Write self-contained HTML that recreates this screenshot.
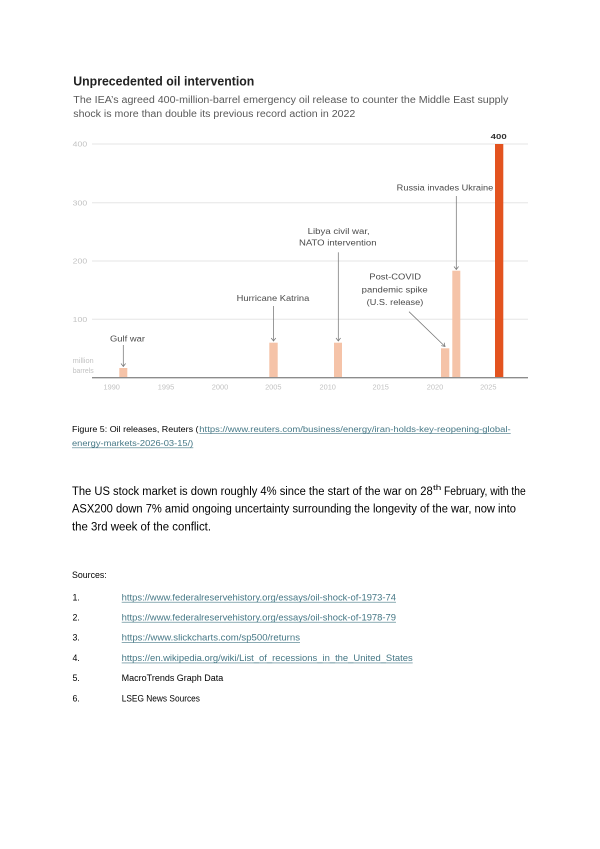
<!DOCTYPE html>
<html>
<head>
<meta charset="utf-8">
<style>
  html,body{margin:0;padding:0;background:#fff;}
  svg{display:block;}
  .ann{font-family:"Liberation Sans",sans-serif;font-size:8.6px;fill:#4a4a4a;}
  .ax{font-family:"Liberation Sans",sans-serif;font-size:7.4px;fill:#c2c2c2;}
  .doc{font-family:"Liberation Sans",sans-serif;fill:#000;}
  .lnk{fill:#467886;}
</style>
</head>
<body>
<svg width="600" height="849" viewBox="0 0 600 849" xmlns="http://www.w3.org/2000/svg">
  <rect width="600" height="849" fill="#fff"/>

  <!-- Title & subtitle -->
  <text x="73.3" y="85.7" font-family="Liberation Sans, sans-serif" font-weight="bold" font-size="12.5" fill="#222" textLength="181" lengthAdjust="spacingAndGlyphs">Unprecedented oil intervention</text>
  <text x="73.3" y="103" font-family="Liberation Sans, sans-serif" font-size="10" fill="#595959" textLength="435" lengthAdjust="spacingAndGlyphs">The IEA’s agreed 400-million-barrel emergency oil release to counter the Middle East supply</text>
  <text x="73.3" y="117" font-family="Liberation Sans, sans-serif" font-size="10" fill="#595959" textLength="282" lengthAdjust="spacingAndGlyphs">shock is more than double its previous record action in 2022</text>

  <!-- Gridlines -->
  <g stroke="#e6e6e6" stroke-width="1">
    <line x1="92" y1="144" x2="528" y2="144"/>
    <line x1="92" y1="202.7" x2="528" y2="202.7"/>
    <line x1="92" y1="261" x2="528" y2="261"/>
    <line x1="92" y1="319.3" x2="528" y2="319.3"/>
  </g>

  <!-- Y axis labels -->
  <text class="ax" x="72.7" y="146.7" textLength="14.5" lengthAdjust="spacingAndGlyphs">400</text>
  <text class="ax" x="72.7" y="205.4" textLength="14.5" lengthAdjust="spacingAndGlyphs">300</text>
  <text class="ax" x="72.7" y="263.7" textLength="14.5" lengthAdjust="spacingAndGlyphs">200</text>
  <text class="ax" x="72.7" y="322" textLength="14.5" lengthAdjust="spacingAndGlyphs">100</text>
  <text class="ax" x="72.7" y="362.8" font-size="6" textLength="21" lengthAdjust="spacingAndGlyphs">million</text>
  <text class="ax" x="72.7" y="372.8" font-size="6" textLength="21" lengthAdjust="spacingAndGlyphs">barrels</text>

  <!-- Bars -->
  <g fill="#f5c3a8">
    <rect x="119.3" y="368" width="8" height="9.7"/>
    <rect x="269.3" y="342.7" width="8.4" height="35"/>
    <rect x="334" y="342.7" width="8" height="35"/>
    <rect x="441" y="348.3" width="8.3" height="29.4"/>
    <rect x="452.3" y="270.7" width="8" height="107"/>
  </g>
  <rect x="495" y="144" width="8.3" height="233.7" fill="#e3531f"/>
  <text x="498.7" y="139" text-anchor="middle" font-family="Liberation Sans, sans-serif" font-weight="bold" font-size="7.6" fill="#333" textLength="16" lengthAdjust="spacingAndGlyphs">400</text>

  <!-- Baseline -->
  <line x1="92" y1="377.7" x2="528" y2="377.7" stroke="#8c8c8c" stroke-width="1.3"/>

  <!-- X axis labels -->
  <g class="ax" text-anchor="middle">
    <text x="111.7" y="389.5">1990</text>
    <text x="166" y="389.5">1995</text>
    <text x="220" y="389.5">2000</text>
    <text x="273.3" y="389.5">2005</text>
    <text x="327.7" y="389.5">2010</text>
    <text x="380.7" y="389.5">2015</text>
    <text x="435" y="389.5">2020</text>
    <text x="488.3" y="389.5">2025</text>
  </g>

  <!-- Annotations -->
  <text class="ann" x="110" y="341.5" textLength="35" lengthAdjust="spacingAndGlyphs">Gulf war</text>
  <text class="ann" x="236.7" y="301" textLength="72.6" lengthAdjust="spacingAndGlyphs">Hurricane Katrina</text>
  <text class="ann" x="307.7" y="234" textLength="62" lengthAdjust="spacingAndGlyphs">Libya civil war,</text>
  <text class="ann" x="299" y="245.7" textLength="77.5" lengthAdjust="spacingAndGlyphs">NATO intervention</text>
  <text class="ann" x="369.3" y="279.5" textLength="51.7" lengthAdjust="spacingAndGlyphs">Post-COVID</text>
  <text class="ann" x="361.7" y="292.3" textLength="66" lengthAdjust="spacingAndGlyphs">pandemic spike</text>
  <text class="ann" x="366.7" y="305" textLength="56.6" lengthAdjust="spacingAndGlyphs">(U.S. release)</text>
  <text class="ann" x="396.7" y="190.5" textLength="96.6" lengthAdjust="spacingAndGlyphs">Russia invades Ukraine</text>

  <!-- Arrows -->
  <g stroke="#777" stroke-width="0.75" fill="none">
    <line x1="123.3" y1="345" x2="123.3" y2="366.5"/>
    <polyline points="121,363.5 123.3,366.5 125.6,363.5"/>
    <line x1="273.5" y1="306" x2="273.5" y2="341"/>
    <polyline points="271.2,338 273.5,341 275.8,338"/>
    <line x1="338.3" y1="252.3" x2="338.3" y2="341"/>
    <polyline points="336,338 338.3,341 340.6,338"/>
    <line x1="409" y1="311.7" x2="445" y2="346.5"/>
    <polyline points="441.3,345.6 445,346.5 444.2,342.7"/>
    <line x1="456.3" y1="196" x2="456.3" y2="269.5"/>
    <polyline points="454,266.5 456.3,269.5 458.6,266.5"/>
  </g>

  <!-- Figure caption -->
  <text class="doc" x="72" y="431.8" font-size="8.6" textLength="126.5" lengthAdjust="spacingAndGlyphs">Figure 5: Oil releases, Reuters (</text>
  <text class="doc lnk" x="199.3" y="431.8" font-size="8.6" textLength="311.4" lengthAdjust="spacingAndGlyphs">https://www.reuters.com/business/energy/iran-holds-key-reopening-global-</text>
  <text class="doc lnk" x="72" y="446" font-size="8.6" textLength="121.3" lengthAdjust="spacingAndGlyphs">energy-markets-2026-03-15/)</text>
  <g stroke="#467886" stroke-width="0.6">
    <line x1="199.3" y1="433.6" x2="510.7" y2="433.6"/>
    <line x1="72" y1="447.8" x2="193.3" y2="447.8"/>
  </g>

  <!-- Paragraph -->
  <text class="doc" x="72" y="495" font-size="11.5" textLength="360.7" lengthAdjust="spacingAndGlyphs">The US stock market is down roughly 4% since the start of the war on 28</text>
  <text class="doc" x="433" y="490" font-size="7" textLength="8.3" lengthAdjust="spacingAndGlyphs">th</text>
  <text class="doc" x="444" y="495" font-size="11.5" textLength="81.7" lengthAdjust="spacingAndGlyphs">February, with the</text>
  <text class="doc" x="72" y="512.7" font-size="11.5" textLength="444" lengthAdjust="spacingAndGlyphs">ASX200 down 7% amid ongoing uncertainty surrounding the longevity of the war, now into</text>
  <text class="doc" x="72" y="530.3" font-size="11.5" textLength="139" lengthAdjust="spacingAndGlyphs">the 3rd week of the conflict.</text>

  <!-- Sources -->
  <text class="doc" x="72" y="578" font-size="8.8" textLength="34.7" lengthAdjust="spacingAndGlyphs">Sources:</text>

  <g class="doc" font-size="8.8">
    <text x="72.5" y="600.3">1.</text>
    <text x="72.5" y="620.3">2.</text>
    <text x="72.5" y="640.7">3.</text>
    <text x="72.5" y="661">4.</text>
    <text x="72.5" y="681">5.</text>
    <text x="72.5" y="701.7">6.</text>
  </g>

  <text class="doc lnk" x="121.7" y="600.3" font-size="8.8" textLength="274.3" lengthAdjust="spacingAndGlyphs">https://www.federalreservehistory.org/essays/oil-shock-of-1973-74</text>
  <text class="doc lnk" x="121.7" y="620.3" font-size="8.8" textLength="274.3" lengthAdjust="spacingAndGlyphs">https://www.federalreservehistory.org/essays/oil-shock-of-1978-79</text>
  <text class="doc lnk" x="121.7" y="640.7" font-size="8.8" textLength="178.3" lengthAdjust="spacingAndGlyphs">https://www.slickcharts.com/sp500/returns</text>
  <text class="doc lnk" x="121.7" y="661" font-size="8.8" textLength="291" lengthAdjust="spacingAndGlyphs">https://en.wikipedia.org/wiki/List_of_recessions_in_the_United_States</text>
  <text class="doc" x="121.7" y="681" font-size="8.8" textLength="101.6" lengthAdjust="spacingAndGlyphs">MacroTrends Graph Data</text>
  <text class="doc" x="121.7" y="701.7" font-size="8.8" textLength="78.3" lengthAdjust="spacingAndGlyphs">LSEG News Sources</text>
  <g stroke="#467886" stroke-width="0.6">
    <line x1="121.7" y1="602.2" x2="396" y2="602.2"/>
    <line x1="121.7" y1="622.2" x2="396" y2="622.2"/>
    <line x1="121.7" y1="642.6" x2="300" y2="642.6"/>
    <line x1="121.7" y1="662.9" x2="412.7" y2="662.9"/>
  </g>
</svg>
</body>
</html>
